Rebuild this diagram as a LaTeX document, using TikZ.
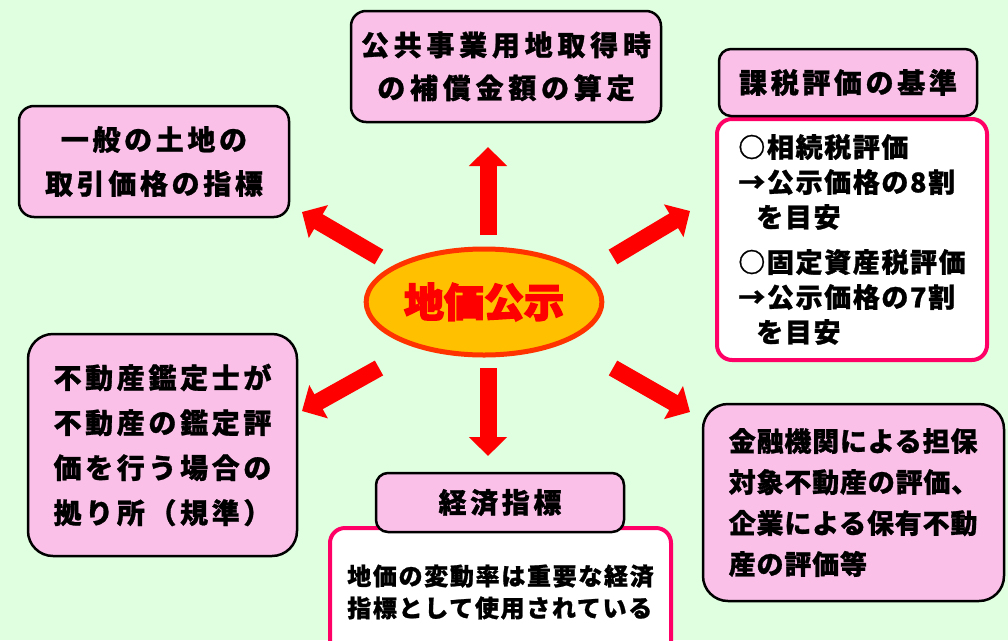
\documentclass[tikz,border=0pt]{standalone}
\usepackage{fontspec}
\newfontfamily\jp{Noto Sans CJK JP}
\usetikzlibrary{arrows.meta,shapes.geometric}
\definecolor{bg}{RGB}{224,255,224}
\definecolor{pinkfill}{RGB}{250,192,232}
\definecolor{pinkline}{RGB}{255,0,102}
\definecolor{ellfill}{RGB}{255,192,0}
\definecolor{ellline}{RGB}{255,51,0}
\definecolor{arrowred}{RGB}{255,0,0}
\begin{document}
\begin{tikzpicture}[x=1pt,y=-1pt,
  pinkbox/.style={draw=black, line width=2.5pt, fill=pinkfill, rounded corners=#1, inner sep=0pt,
    font=\jp\bfseries\fontsize{28}{44}\selectfont\addfontfeature{LetterSpace=13,FakeBold=1}},
  whitebox/.style={draw=pinkline, line width=4pt, fill=white, rounded corners=15pt, inner sep=0pt},
  bigarrow/.style={draw=arrowred, line width=17pt, -{Triangle[width=37pt,length=19pt]}},
]
\useasboundingbox (0,0) rectangle (1008,640);
\clip (0,0) rectangle (1008,640);
\fill[bg] (0,0) rectangle (1008,640);

% top box
\node[pinkbox=15pt, minimum width=310pt, minimum height=111pt, align=center,
  font=\jp\bfseries\fontsize{28}{43}\selectfont\addfontfeature{LetterSpace=17,FakeBold=1}] (kokyo) at (506,66.5)
  {公共事業用地取得時\\の補償金額の算定};
% top-left box
\node[pinkbox=15pt, minimum width=270pt, minimum height=111pt, align=center] (ippan) at (154,161.5)
  {一般の土地の\\取引価格の指標};
% left box
\node[pinkbox=25pt, minimum width=269pt, minimum height=222pt, align=left,
  font=\jp\bfseries\fontsize{28}{45}\selectfont\addfontfeature{LetterSpace=13,FakeBold=1}] (kantei) at (162.5,445)
  {不動産鑑定士が\\不動産の鑑定評\\価を行う場合の\\拠り所（規準）};
% bottom-right box
\node[pinkbox=25pt, minimum width=301pt, minimum height=197pt, align=left,
  font=\jp\bfseries\fontsize{27}{41}\selectfont\addfontfeature{LetterSpace=3,FakeBold=1}] (kinyu) at (853.5,502.5)
  {金融機関による担保\\対象不動産の評価、\\企業による保有不動\\産の評価等};

% right white box + header
\node[whitebox, minimum width=270pt, minimum height=241pt, align=left,
  font=\jp\bfseries\fontsize{27}{35}\selectfont\addfontfeature{LetterSpace=6,FakeBold=1}] (kazeibody) at (852,239.5)
  {○相続税評価\\→公示価格の8割\\\hspace{18pt}を目安\\[10pt]○固定資産税評価\\→公示価格の7割\\\hspace{18pt}を目安};
\node[pinkbox=12pt, minimum width=258pt, minimum height=67pt] (kazei) at (848,82.5) {課税評価の基準};

% bottom white box + header
\node[whitebox, minimum width=341pt, minimum height=128pt, align=left,
  font=\jp\bfseries\fontsize{24}{32}\selectfont\addfontfeature{LetterSpace=7,FakeBold=1}] (keizaibody) at (500.5,592)
  {地価の変動率は重要な経済\\指標として使用されている};
\node[pinkbox=12pt, minimum width=248pt, minimum height=59pt] (keizai) at (500,502.5) {経済指標};

% center ellipse
\node[ellipse, draw=ellline, line width=5pt, fill=ellfill, minimum width=227pt, minimum height=106pt,
  text=arrowred, font=\jp\bfseries\fontsize{40}{40}\selectfont\addfontfeature{FakeBold=3.5}] (chika) at (484,302) {地価公示};

% arrow endpoints
\coordinate (upT) at (488,235);   \coordinate (upH) at (488,147);
\coordinate (dnT) at (488,368);   \coordinate (dnH) at (488,456);
\coordinate (ulT) at (379,257);   \coordinate (ulH) at (302,212);
\coordinate (urT) at (613,257);   \coordinate (urH) at (690,211);
\coordinate (llT) at (379,368);   \coordinate (llH) at (302,411);
\coordinate (lrT) at (613,368);   \coordinate (lrH) at (690,412);
\draw[bigarrow] (upT) -- (upH);
\draw[bigarrow] (dnT) -- (dnH);
\draw[bigarrow] (ulT) -- (ulH);
\draw[bigarrow] (urT) -- (urH);
\draw[bigarrow] (llT) -- (llH);
\draw[bigarrow] (lrT) -- (lrH);
\end{tikzpicture}
\end{document}
